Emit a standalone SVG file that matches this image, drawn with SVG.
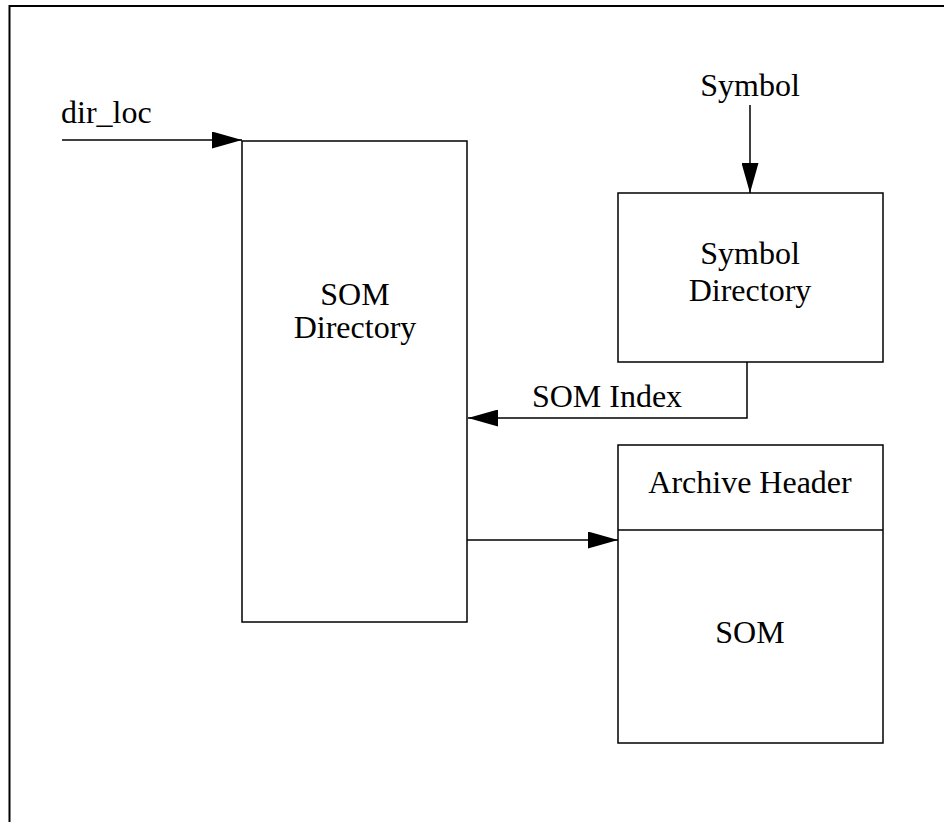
<svg xmlns="http://www.w3.org/2000/svg" width="944" height="822" viewBox="0 0 944 822">
<style>
.box{fill:#fff;stroke:#000;stroke-width:1.5}
.ln{fill:none;stroke:#000;stroke-width:1.5}
text{font-family:"Liberation Serif","Times New Roman",serif;font-size:32px;fill:#000}
.c{text-anchor:middle}
</style>
<defs>
<marker id="ah" viewBox="0 0 30 17" refX="30" refY="8.5" markerWidth="30" markerHeight="17" markerUnits="userSpaceOnUse" orient="auto">
<path d="M0,0 L30,8.5 L0,17 Z" fill="#000"/>
</marker>
</defs>
<rect width="944" height="822" fill="#fff"/>
<rect id="frame" x="9.5" y="6" width="960" height="840" fill="none" stroke="#000" stroke-width="2"/>
<g id="connectors">
<line class="ln" x1="62" y1="140" x2="242" y2="140" marker-end="url(#ah)"/>
<line class="ln" x1="750" y1="105" x2="750" y2="193" marker-end="url(#ah)"/>
<polyline class="ln" points="747,362 747,418 468,418" marker-end="url(#ah)"/>
<line class="ln" x1="467" y1="540" x2="618" y2="540" marker-end="url(#ah)"/>
</g>
<g id="labels">
<text x="61" y="123">dir_loc</text>
<text class="c" x="750" y="96">Symbol</text>
<text class="c" x="607" y="407">SOM Index</text>
</g>
<g id="som-directory">
<rect class="box" x="242" y="141" width="225" height="481"/>
<text class="c" x="355" y="305">SOM</text>
<text class="c" x="355" y="338">Directory</text>
</g>
<g id="symbol-directory">
<rect class="box" x="618" y="193" width="265" height="169"/>
<text class="c" x="750" y="264">Symbol</text>
<text class="c" x="750" y="301">Directory</text>
</g>
<g id="archive">
<rect class="box" x="618" y="445" width="265" height="298"/>
<line class="ln" x1="618" y1="530" x2="883" y2="530"/>
<text class="c" x="750" y="493">Archive Header</text>
<text class="c" x="750" y="643">SOM</text>
</g>
</svg>
